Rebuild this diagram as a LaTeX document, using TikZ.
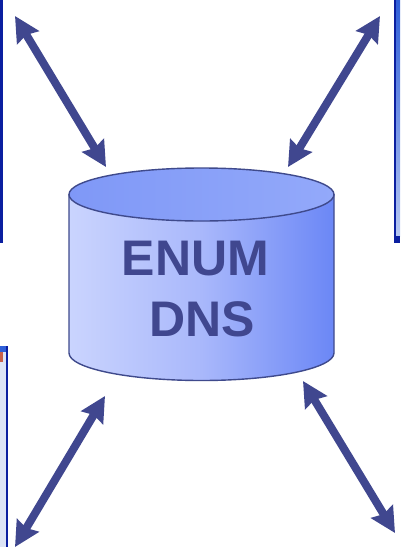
\documentclass[tikz,border=0pt]{standalone}
\usepackage{fontspec}
\setmainfont{Liberation Sans}
\usetikzlibrary{arrows.meta}
\definecolor{ink}{HTML}{40478F}
\definecolor{edgeline}{HTML}{3F4A8C}
\definecolor{sideL}{HTML}{CAD4FE}
\definecolor{sideM}{HTML}{A9B8FB}
\definecolor{sideR}{HTML}{6B87F6}
\definecolor{topL}{HTML}{7F98F7}
\definecolor{topR}{HTML}{93A9FA}
\definecolor{barblue}{HTML}{0B1FA0}
\definecolor{barlight}{HTML}{2F5FD8}
\definecolor{barpale}{HTML}{DDE4F6}
\definecolor{barred}{HTML}{C8604A}
\tikzset{
  link/.style={draw=ink,line width=8pt,{Stealth[length=25pt,width=25pt,inset=3pt]}-{Stealth[length=25pt,width=25pt,inset=3pt]}},
  label/.style={text=ink,font=\bfseries\fontsize{50pt}{50pt}\selectfont,inner sep=0pt,anchor=base},
  rim/.style={draw=edgeline,line width=1.4pt}
}
\begin{document}
\begin{tikzpicture}[x=1pt,y=-1pt]
\useasboundingbox (0,0) rectangle (400,547);
\fill[white] (0,0) rectangle (400,547);
% screenshot slivers at the edges
\fill[barblue] (0,0) rectangle (2.5,243);
\fill[barblue] (394,0) rectangle (396,243);
\path[top color=barlight,bottom color=barlight!35!white] (396,0) rectangle (400,236);
\fill[barblue] (396,236) rectangle (400,243);
\fill[barblue] (6,346) rectangle (8,547);
\fill[barpale] (0,352) rectangle (6,547);
\fill[barlight] (0,346) rectangle (6,352);
\fill[barred] (0,352) rectangle (3,362);
% cylinder
\path[left color=sideL,right color=sideR,middle color=sideM]
  (69,194) -- (69,353) arc[start angle=180,end angle=0,x radius=132.5,y radius=27.5] -- (334,194) -- cycle;
\draw[rim] (69,194) -- (69,353) arc[start angle=180,end angle=0,x radius=132.5,y radius=27.5] -- (334,194);
\path[left color=topL,right color=topR,rim]
  (201.5,194.5) ellipse[x radius=132.5,y radius=26.5];
\node[label] (enum) at (195.5,275) {ENUM};
\node[label] (dns) at (202.5,336) {DNS};
% connector ends
\coordinate (tlA) at (15,16);   \coordinate (tlB) at (106,167);
\coordinate (trA) at (380,16);  \coordinate (trB) at (288,167);
\coordinate (blA) at (15,547);  \coordinate (blB) at (105,396);
\coordinate (brA) at (395,533); \coordinate (brB) at (303,381);
\draw[link] (tlA) -- (tlB);
\draw[link] (trA) -- (trB);
\draw[link] (blA) -- (blB);
\draw[link] (brA) -- (brB);
\end{tikzpicture}
\end{document}
